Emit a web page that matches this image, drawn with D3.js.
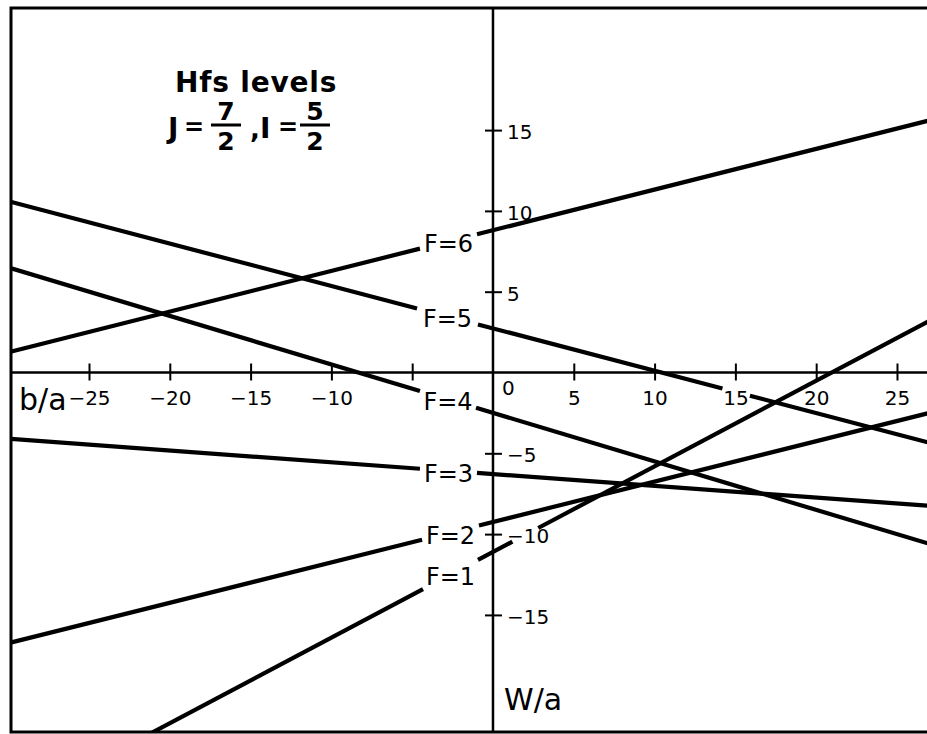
<!DOCTYPE html>
<html>
<head>
<meta charset="utf-8">
<script src="https://cdn.jsdelivr.net/npm/d3@7"></script>
<style>
  html, body { margin: 0; padding: 0; background: #fff; }
  svg { display: block; }
  text { font-family: "DejaVu Sans", sans-serif; fill: #000; }
</style>
</head>
<body>
<svg id="chart" width="927" height="734"></svg>
<script>
// Hyperfine levels W/a versus b/a for J = 7/2, I = 5/2
const levelNames = ["F=1", "F=2", "F=3", "F=4", "F=5", "F=6"];
// W/a of each level at the two ends of the b/a range
const bEnds = [-30, 27];
const wAtLeft = [-27.0, -16.75, -4.1, 6.5, 10.6, 1.25];
const wAtRight = [3.2, -2.5, -8.25, -10.6, -4.35, 15.6];
// b/a intervals where a level's line is broken (label first, then axis labels)
const lineGaps = [
  [[-4.33, -0.93], [1.2, 2.8]],
  [[-4.39, -0.87]],
  [[-4.52, -0.99]],
  [[-4.52, -1.05]],
  [[-4.7, -0.93], [14.2, 15.9]],
  [[-4.52, -0.99]]
];

const xTicks = [-25, -20, -15, -10, -5, 5, 10, 15, 20, 25];
const xTickLabels = ["−25", "−20", "−15", "−10", "", "5", "10", "15", "20", "25"];
const yTicks = [15, 10, 5, -5, -10, -15];
const yTickLabels = ["15", "10", "5", "−5", "−10", "−15"];

const svg = d3.select("#chart");
const frame = { left: 11, top: 8, right: 960, bottom: 732 };

const x = d3.scaleLinear().domain([-30, 27]).range([8.2, 929.3]);
const y = d3.scaleLinear().domain([-23, 23]).range([744.2, 0.8]);

svg.append("defs").append("clipPath").attr("id", "plotClip")
  .append("rect")
  .attr("x", frame.left).attr("y", frame.top)
  .attr("width", frame.right - frame.left).attr("height", frame.bottom - frame.top);

// frame
svg.append("rect")
  .attr("x", frame.left).attr("y", frame.top)
  .attr("width", frame.right - frame.left).attr("height", frame.bottom - frame.top)
  .attr("fill", "none").attr("stroke", "#000").attr("stroke-width", 3);

const plot = svg.append("g").attr("clip-path", "url(#plotClip)");

// main axes through the origin
plot.append("line")
  .attr("x1", frame.left).attr("x2", frame.right)
  .attr("y1", y(0)).attr("y2", y(0))
  .attr("stroke", "#000").attr("stroke-width", 2.5);
plot.append("line")
  .attr("x1", x(0)).attr("x2", x(0))
  .attr("y1", frame.top).attr("y2", frame.bottom)
  .attr("stroke", "#000").attr("stroke-width", 2.5);

// crossing ticks on the b/a axis
const xAxis = d3.axisBottom(x)
  .tickValues(xTicks)
  .tickSizeInner(17).tickSizeOuter(0).tickPadding(10)
  .tickFormat((d, i) => xTickLabels[i]);
const gx = svg.append("g").attr("transform", `translate(0,${y(0) - 9})`).call(xAxis);
gx.select(".domain").remove();
gx.selectAll(".tick line").attr("stroke", "#000").attr("stroke-width", 2);
gx.selectAll(".tick text").attr("font-size", 20).attr("fill", "#000")
  .attr("font-family", "DejaVu Sans, sans-serif");

// crossing ticks on the W/a axis
const yAxis = d3.axisRight(y)
  .tickValues(yTicks)
  .tickSizeInner(17).tickSizeOuter(0).tickPadding(5)
  .tickFormat((d, i) => yTickLabels[i]);
const gy = svg.append("g").attr("transform", `translate(${x(0) - 8},0)`).call(yAxis);
gy.select(".domain").remove();
gy.selectAll(".tick line").attr("stroke", "#000").attr("stroke-width", 2);
gy.selectAll(".tick text").attr("font-size", 20).attr("fill", "#000")
  .attr("dy", "0.42em")
  .attr("font-family", "DejaVu Sans, sans-serif");

// origin label
svg.append("text")
  .attr("x", x(0) + 9).attr("y", y(0) + 22)
  .attr("font-size", 20).text("0");

// axis titles
svg.append("text")
  .attr("x", 19).attr("y", 410)
  .attr("font-size", 30).text("b/a");
svg.append("text")
  .attr("x", 504).attr("y", 710)
  .attr("font-size", 30).text("W/a");

// level lines, broken where labels sit
const levels = levelNames.map((name, i) => ({
  name,
  w0: wAtLeft[i],
  w1: wAtRight[i],
  gaps: lineGaps[i]
}));
const wAt = (lv, b) => lv.w0 + (lv.w1 - lv.w0) * (b - bEnds[0]) / (bEnds[1] - bEnds[0]);

levels.forEach(lv => {
  const cuts = [bEnds[0]];
  lv.gaps.forEach(g => { cuts.push(g[0], g[1]); });
  cuts.push(bEnds[1]);
  for (let k = 0; k < cuts.length; k += 2) {
    const b0 = cuts[k], b1 = cuts[k + 1];
    plot.append("line")
      .attr("x1", x(b0)).attr("y1", y(wAt(lv, b0)))
      .attr("x2", x(b1)).attr("y2", y(wAt(lv, b1)))
      .attr("stroke", "#000").attr("stroke-width", 4.2);
  }
  const gap = lv.gaps[0];
  const bm = (gap[0] + gap[1]) / 2;
  svg.append("text")
    .attr("x", x(bm)).attr("y", y(wAt(lv, bm)) + 3)
    .attr("text-anchor", "middle")
    .attr("dominant-baseline", "central")
    .attr("font-size", 24)
    .text(lv.name);
});

// title block
svg.append("text")
  .attr("x", 175).attr("y", 92)
  .attr("font-size", 28).attr("font-weight", "bold")
  .attr("letter-spacing", 0.8)
  .text("Hfs levels");

const row = svg.append("g").attr("font-weight", "bold");
row.append("text").attr("x", 168).attr("y", 138).attr("font-size", 28).text("J");
row.append("text").attr("x", 184).attr("y", 135).attr("font-size", 24).text("=");
row.append("text").attr("x", 250).attr("y", 138).attr("font-size", 26).text(",");
row.append("text").attr("x", 260).attr("y", 138).attr("font-size", 28)
  .attr("font-family", "DejaVu Serif, serif").text("I");
row.append("text").attr("x", 278).attr("y", 135).attr("font-size", 24).text("=");

const fracNum = ["7", "5"];
const fracDen = ["2", "2"];
const fracX = [226, 315];
fracX.forEach((cx, i) => {
  row.append("line")
    .attr("x1", cx - 15).attr("x2", cx + 15)
    .attr("y1", 125).attr("y2", 125)
    .attr("stroke", "#000").attr("stroke-width", 3);
  row.append("text").attr("x", cx).attr("y", 120)
    .attr("text-anchor", "middle").attr("font-size", 25).text(fracNum[i]);
  row.append("text").attr("x", cx).attr("y", 150)
    .attr("text-anchor", "middle").attr("font-size", 25).text(fracDen[i]);
});
</script>
</body>
</html>
